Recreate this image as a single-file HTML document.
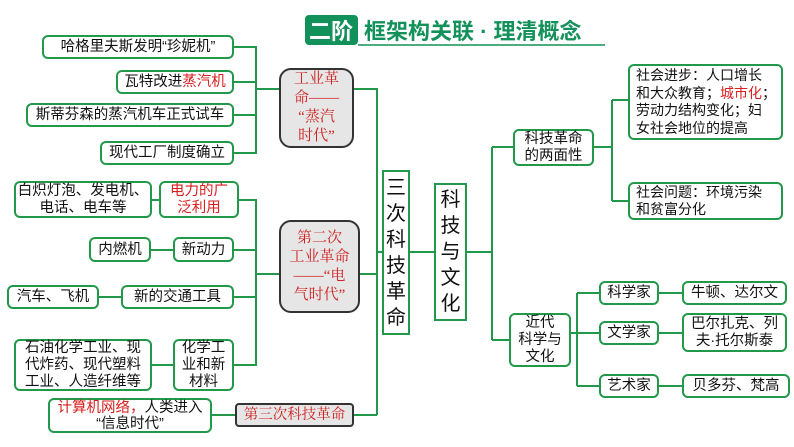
<!DOCTYPE html>
<html><head><meta charset="utf-8"><style>
body{margin:0;width:794px;height:447px;background:#fff;position:relative;overflow:hidden;font-family:"Liberation Sans","Noto Sans CJK SC",sans-serif;}
.b{position:absolute;box-sizing:border-box;border:2px solid #22994a;border-radius:6px;background:#fff;font-size:14.5px;line-height:18px;color:#111;display:flex;align-items:center;justify-content:center;text-align:center;white-space:nowrap;}
.g{background:#e6e6e6;border-color:#333;border-radius:12px;color:#d02020;font-family:"Liberation Serif","Noto Serif CJK SC",serif;}
.r{color:#d81e1e;}
.v{border-radius:0;font-size:20px;line-height:26px;}
.l{text-align:left;justify-content:flex-start;padding-left:6px;}
svg{position:absolute;left:0;top:0;}
</style></head><body>
<svg width="794" height="447"><g stroke="#22994a" stroke-width="2" fill="none">
<path d="M234 47H256M234 82H256M234 115H256M234 153H256M256 46V154M256 89H279"/>
<path d="M354 89H377V415M354 415H377M360 274H377M377 252H383"/>
<path d="M239 200H256M234 250H256M234 297H256M234 365H256M256 199V366M256 274H279"/>
<path d="M152 200H159M151 250H173M99 297H121M152 365H173M212 415H235"/>
<path d="M409 252H434M467 252H492M492 147V340M492 147H513M492 340H509"/>
<path d="M594 147H612M612 100V201M612 100H628M612 201H628"/>
<path d="M571 333H577M577 293V386M577 293H599M577 333H599M577 386H599"/>
<path d="M659 293H682M659 333H682M659 386H682"/>
</g>
<rect x="305" y="15" width="53" height="30" rx="4" fill="#13915a"/>
<path d="M358 45H605" stroke="#13915a" stroke-width="1.5"/>
<text x="331" y="39" font-size="22" font-weight="bold" fill="#fff" text-anchor="middle" font-family="Liberation Sans,Noto Sans CJK SC,sans-serif">二阶</text>
<text x="364" y="39" font-size="22" font-weight="bold" fill="#13915a" font-family="Liberation Sans,Noto Sans CJK SC,sans-serif">框架构关联 · 理清概念</text>
</svg>
<div class="b" style="left:42px;top:35px;width:192px;height:24px">哈格里夫斯发明“珍妮机”</div>
<div class="b" style="left:116px;top:70px;width:118px;height:24px"><span>瓦特改进<span class="r">蒸汽机</span></span></div>
<div class="b" style="left:26px;top:103px;width:208px;height:24px">斯蒂芬森的蒸汽机车正式试车</div>
<div class="b" style="left:100px;top:141px;width:134px;height:24px">现代工厂制度确立</div>
<div class="b g" style="left:279px;top:68px;width:75px;height:80px;font-size:15px;line-height:19px">工业革<br>命——<br>“蒸汽<br>时代”</div>
<div class="b" style="left:14px;top:181px;width:138px;height:37px;line-height:17px">白炽灯泡、发电机、<br>电话、电车等</div>
<div class="b r" style="left:159px;top:181px;width:80px;height:37px;line-height:17px">电力的广<br>泛利用</div>
<div class="b" style="left:89px;top:237px;width:62px;height:25px">内燃机</div>
<div class="b" style="left:173px;top:237px;width:61px;height:25px">新动力</div>
<div class="b" style="left:7px;top:285px;width:92px;height:24px">汽车、飞机</div>
<div class="b" style="left:121px;top:285px;width:113px;height:24px">新的交通工具</div>
<div class="b" style="left:14px;top:339px;width:138px;height:52px;line-height:17px">石油化学工业、现<br>代炸药、现代塑料<br>工业、人造纤维等</div>
<div class="b" style="left:173px;top:339px;width:61px;height:52px;line-height:17px">化学工<br>业和新<br>材料</div>
<div class="b g" style="left:279px;top:220px;width:81px;height:93px;font-size:15px;line-height:19px">第二次<br>工业革命<br>——“电<br>气时代”</div>
<div class="b" style="left:48px;top:398px;width:164px;height:35px;line-height:16px"><span><span class="r">计算机网络，</span>人类进入<br>“信息时代”</span></div>
<div class="b g" style="left:235px;top:403px;width:119px;height:24px;border-radius:4px">第三次科技革命</div>
<div class="b v" style="left:382px;top:170px;width:28px;height:165px;">三<br>次<br>科<br>技<br>革<br>命</div>
<div class="b v" style="left:434px;top:183px;width:33px;height:138px;">科<br>技<br>与<br>文<br>化</div>
<div class="b" style="left:513px;top:129px;width:81px;height:37px;line-height:17px">科技革命<br>的两面性</div>
<div class="b l" style="left:628px;top:64px;width:155px;height:76px;line-height:17.5px;font-size:14px"><span>社会进步：人口增长<br>和大众教育；<span class="r">城市化</span>；<br>劳动力结构变化；妇<br>女社会地位的提高</span></div>
<div class="b l" style="left:628px;top:182px;width:155px;height:38px;line-height:17.5px;font-size:14px">社会问题：环境污染<br>和贫富分化</div>
<div class="b" style="left:509px;top:313px;width:62px;height:54px;line-height:17px">近代<br>科学与<br>文化</div>
<div class="b" style="left:599px;top:281px;width:60px;height:24px">科学家</div>
<div class="b" style="left:682px;top:281px;width:105px;height:24px">牛顿、达尔文</div>
<div class="b" style="left:599px;top:321px;width:60px;height:24px">文学家</div>
<div class="b" style="left:682px;top:313px;width:105px;height:39px;line-height:17px">巴尔扎克、列<br>夫·托尔斯泰</div>
<div class="b" style="left:599px;top:374px;width:60px;height:24px">艺术家</div>
<div class="b" style="left:682px;top:374px;width:108px;height:24px">贝多芬、梵高</div>
</body></html>
